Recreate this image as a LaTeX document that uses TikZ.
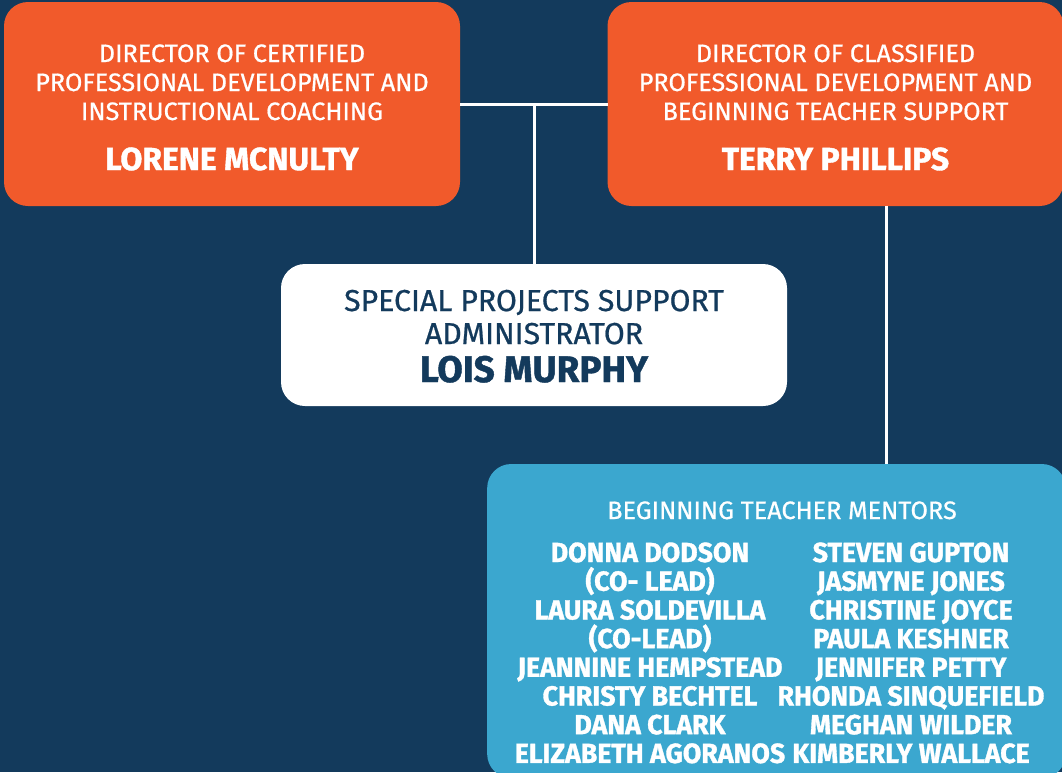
\documentclass[tikz,border=0pt]{standalone}
\usepackage{fontspec}
\newfontfamily\tfont[FakeBold=0.7]{Fira Sans}
\newfontfamily\nfont[FakeBold=1.2]{Fira Sans Bold}
\newfontfamily\mfont[FakeStretch=0.97,FakeBold=1.2]{Fira Sans Bold}
\definecolor{navy}{HTML}{133A5C}
\definecolor{orng}{HTML}{F15A2B}
\definecolor{skyb}{HTML}{3BA7CF}
\tikzset{
  box/.style={rounded corners=18pt, inner sep=0pt, outer sep=0pt},
  obox/.style={box, fill=orng, minimum width=342pt, minimum height=153pt},
  wbox/.style={box, fill=white, minimum width=379.5pt, minimum height=106.5pt},
  bbox/.style={box, fill=skyb, minimum width=434pt, minimum height=235.5pt},
  conn/.style={draw=white, line width=2.25pt},
  txt/.style={anchor=base, inner sep=0pt, outer sep=0pt},
  otitle/.style={txt, text=white, font=\tfont\fontsize{18.9}{20}\selectfont},
  oname/.style={txt, text=white, font=\nfont\fontsize{23.9}{26}\selectfont},
  wtitle/.style={txt, text=navy, font=\tfont\fontsize{22.7}{24}\selectfont},
  wname/.style={txt, text=navy, font=\nfont\fontsize{27.7}{30}\selectfont},
  btitle/.style={txt, text=white, font=\tfont\fontsize{18.9}{20}\selectfont},
  bname/.style={txt, text=white, font=\mfont\fontsize{20.7}{22}\selectfont},
}
\begin{document}
\begin{tikzpicture}[x=0.75pt,y=-0.75pt]
\clip (0,0) rectangle (1062,772);
\fill[navy] (0,0) rectangle (1062,772);
% boxes
\node[obox] (lbox) at (232,104) {};
\node[obox] (rbox) at (835.5,104) {};
\node[wbox] (wbox) at (534,335) {};
\node[bbox] (bbox) at (776.5,621) {};
% connectors
\coordinate (jl) at (534,104);
\coordinate (rb) at (886,206);
\draw[conn] (lbox.east) -- (rbox.west);
\draw[conn] (jl) -- (wbox.north);
\draw[conn] (rb) -- (bbox.north -| rb);
% left box text
\node[otitle] (l1) at (232,62) {DIRECTOR OF CERTIFIED};
\node[otitle] (l2) at (232,91) {PROFESSIONAL DEVELOPMENT AND};
\node[otitle] (l3) at (232,120) {INSTRUCTIONAL COACHING};
\node[oname] (l4) at (232,170) {LORENE MCNULTY};
% right box text
\node[otitle] (r1) at (835.5,62) {DIRECTOR OF CLASSIFIED};
\node[otitle] (r2) at (835.5,91) {PROFESSIONAL DEVELOPMENT AND};
\node[otitle] (r3) at (835.5,120) {BEGINNING TEACHER SUPPORT};
\node[oname] (r4) at (835.5,170) {TERRY PHILLIPS};
% white box text
\node[wtitle] (w1) at (534,311) {SPECIAL PROJECTS SUPPORT};
\node[wtitle] (w2) at (534,344) {ADMINISTRATOR};
\node[wname] (w3) at (534,382) {LOIS MURPHY};
% blue box text
\node[btitle] (b0) at (782,519) {BEGINNING TEACHER MENTORS};
\node[bname] (a1) at (650,562) {DONNA DODSON};
\node[bname] (a2) at (650,590.7) {(CO- LEAD)};
\node[bname] (a3) at (650,619.4) {LAURA SOLDEVILLA};
\node[bname] (a4) at (650,648.1) {(CO-LEAD)};
\node[bname] (a5) at (650,676.8) {JEANNINE HEMPSTEAD};
\node[bname] (a6) at (650,705.5) {CHRISTY BECHTEL};
\node[bname] (a7) at (650,734.2) {DANA CLARK};
\node[bname] (a8) at (650,762.9) {ELIZABETH AGORANOS};
\node[bname] (c1) at (911,562) {STEVEN GUPTON};
\node[bname] (c2) at (911,590.7) {JASMYNE JONES};
\node[bname] (c3) at (911,619.4) {CHRISTINE JOYCE};
\node[bname] (c4) at (911,648.1) {PAULA KESHNER};
\node[bname] (c5) at (911,676.8) {JENNIFER PETTY};
\node[bname] (c6) at (911,705.5) {RHONDA SINQUEFIELD};
\node[bname] (c7) at (911,734.2) {MEGHAN WILDER};
\node[bname] (c8) at (911,762.9) {KIMBERLY WALLACE};
\end{tikzpicture}
\end{document}
